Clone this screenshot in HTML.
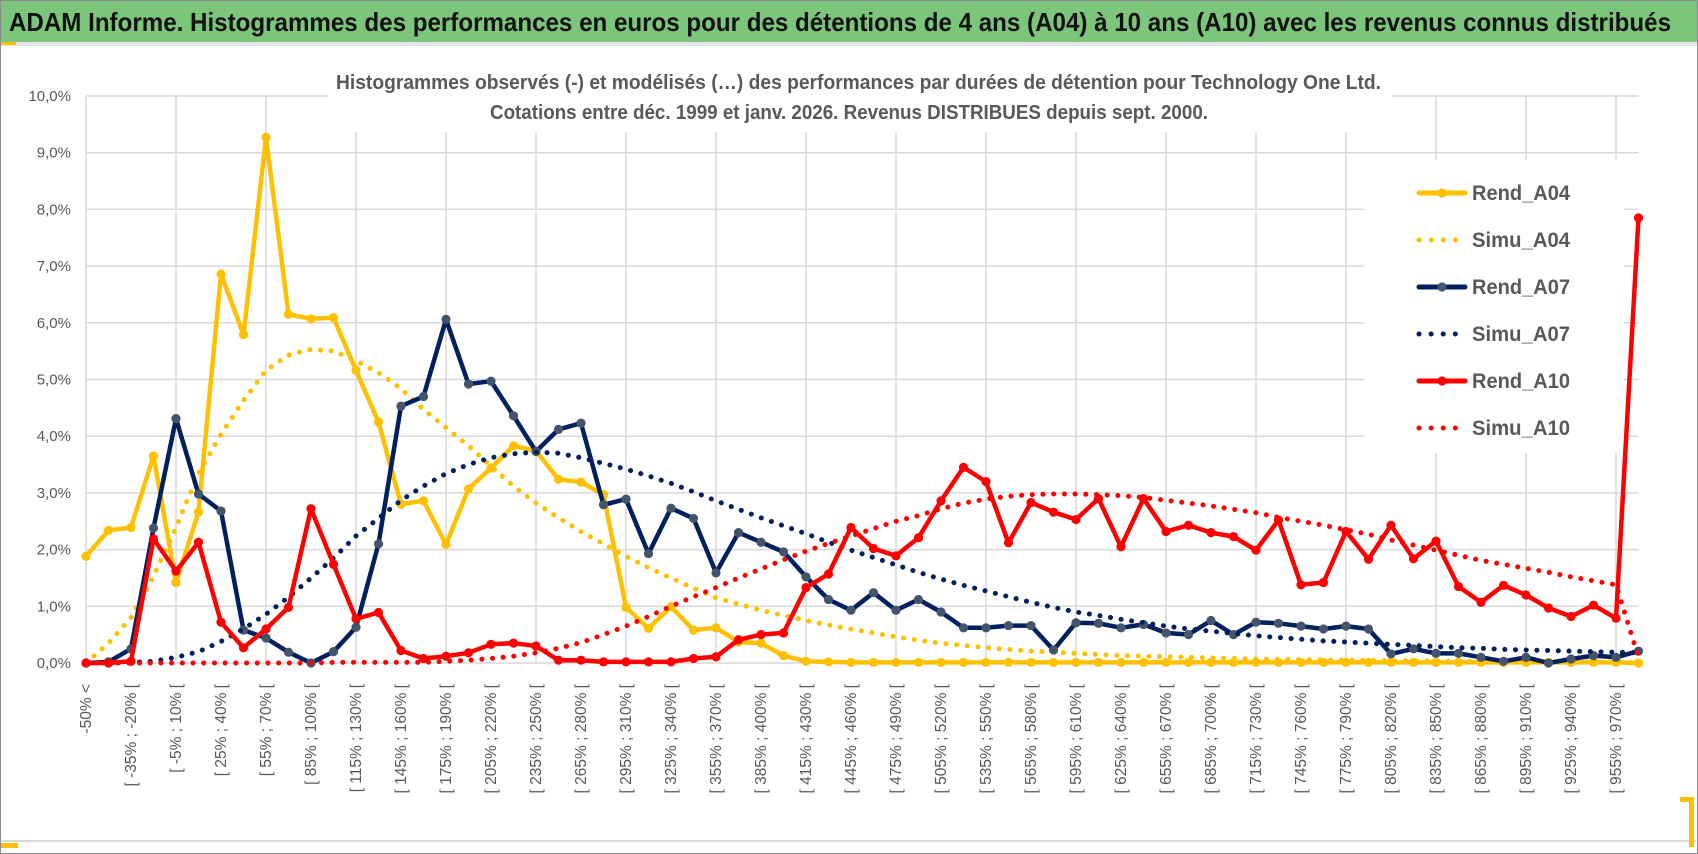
<!DOCTYPE html>
<html><head><meta charset="utf-8">
<style>
html,body{margin:0;padding:0;background:#fff;}
svg{display:block;font-family:"Liberation Sans",sans-serif;}
</style></head>
<body>
<svg id="chart" width="1698" height="854" viewBox="0 0 1698 854" xmlns="http://www.w3.org/2000/svg">
  <rect x="0.5" y="0.5" width="1697" height="853" fill="#fff" stroke="#8c8c8c"/>
  <rect x="1" y="1" width="1696" height="41" fill="#7cc67c"/>
  <rect x="1" y="42" width="1696" height="4" fill="#e4e4e4"/>
  <rect x="1" y="42" width="15" height="3" fill="#ffc000"/>
  <text x="9" y="31" font-size="26" font-weight="bold" fill="#111" textLength="1662" lengthAdjust="spacingAndGlyphs">ADAM Informe. Histogrammes des performances en euros pour des détentions de 4 ans (A04) à 10 ans (A10) avec les revenus connus distribués</text>
  <line x1="2" y1="841" x2="1696" y2="841" stroke="#d9d9d9" stroke-width="2"/>
  <rect x="1" y="843" width="17" height="5" fill="#ffc000"/>
  <rect x="1680" y="797" width="14" height="5" fill="#ffc000"/>
  <rect x="1689" y="797" width="5" height="50" fill="#ffc000"/>
  <g id="grid"></g>
  <g id="yaxis"></g>
  <g id="xaxis"></g>
  <rect x="328" y="50" width="1064" height="82" fill="#fff"/>
  <text x="336" y="89" font-size="20" font-weight="bold" fill="#595959" textLength="1045" lengthAdjust="spacingAndGlyphs">Histogrammes observés (-) et modélisés (…)  des performances par durées de détention pour Technology One Ltd.</text>
  <text x="490" y="119" font-size="20" font-weight="bold" fill="#595959" textLength="718" lengthAdjust="spacingAndGlyphs">Cotations entre déc. 1999 et janv. 2026.  Revenus DISTRIBUES depuis sept. 2000.</text>
  <rect x="1364" y="160" width="260" height="293" fill="#fff"/>
  <g id="series"></g>
  <g id="legend"></g>
</svg>
<script>
const rendA04 = [1.88,2.34,2.39,3.65,1.42,2.66,6.86,5.79,9.27,6.15,6.07,6.09,5.16,4.25,2.8,2.86,2.09,3.07,3.44,3.83,3.74,3.24,3.19,2.97,0.98,0.61,0.99,0.58,0.62,0.37,0.35,0.13,0.03,0.02,0.01,0.01,0.01,0.01,0.01,0.01,0.01,0.01,0.01,0.01,0.01,0.01,0.01,0.01,0.01,0.01,0.01,0.01,0.01,0.01,0.01,0.01,0.01,0.01,0.01,0.01,0.01,0.01,0.01,0.01,0.01,0.01,0.01,0.01,0.01,0.0];
const simuA04 = [0.0,0.35,0.8,1.53,2.39,3.35,4.03,4.63,5.16,5.43,5.53,5.5,5.33,5.12,4.84,4.47,4.15,3.83,3.47,3.12,2.82,2.56,2.32,2.1,1.88,1.68,1.5,1.32,1.15,1.04,0.93,0.84,0.75,0.67,0.6,0.53,0.46,0.4,0.35,0.31,0.27,0.24,0.21,0.19,0.17,0.15,0.13,0.12,0.11,0.1,0.09,0.08,0.07,0.065,0.06,0.055,0.05,0.045,0.04,0.038,0.035,0.032,0.03,0.028,0.026,0.024,0.022,0.02,0.018,0.0];
const rendA07 = [0,0.02,0.25,2.38,4.31,2.98,2.68,0.58,0.44,0.19,0.0,0.2,0.63,2.1,4.53,4.7,6.06,4.92,4.97,4.36,3.73,4.12,4.23,2.79,2.89,1.93,2.73,2.55,1.59,2.3,2.13,1.96,1.52,1.12,0.93,1.24,0.93,1.12,0.9,0.62,0.62,0.66,0.66,0.23,0.71,0.7,0.62,0.68,0.53,0.5,0.75,0.5,0.72,0.7,0.65,0.6,0.65,0.6,0.16,0.25,0.17,0.17,0.1,0.03,0.1,0.0,0.07,0.13,0.1,0.21];
const simuA07 = [0,0,0.01,0.03,0.1,0.2,0.38,0.6,0.86,1.16,1.5,1.85,2.24,2.55,2.87,3.12,3.34,3.5,3.62,3.69,3.72,3.7,3.62,3.52,3.42,3.3,3.17,3.02,2.86,2.71,2.56,2.42,2.28,2.13,1.99,1.86,1.73,1.6,1.48,1.37,1.27,1.17,1.07,0.98,0.9,0.84,0.77,0.71,0.65,0.6,0.56,0.52,0.48,0.45,0.42,0.39,0.37,0.35,0.33,0.31,0.29,0.27,0.26,0.24,0.23,0.22,0.21,0.2,0.19,0.18];
const rendA10 = [0,0,0.03,2.19,1.62,2.13,0.72,0.27,0.6,0.98,2.72,1.74,0.78,0.89,0.22,0.08,0.12,0.18,0.33,0.35,0.3,0.05,0.05,0.02,0.02,0.02,0.02,0.08,0.11,0.41,0.5,0.53,1.33,1.57,2.39,2.02,1.89,2.21,2.86,3.45,3.2,2.12,2.83,2.66,2.53,2.9,2.05,2.9,2.32,2.43,2.3,2.23,1.99,2.52,1.38,1.42,2.32,1.83,2.43,1.84,2.15,1.35,1.07,1.37,1.2,0.97,0.82,1.02,0.79,7.85];
const simuA10 = [0,0,0,0,0,0,0,0,0,0,0,0.01,0.01,0.01,0.01,0.01,0.03,0.05,0.08,0.12,0.18,0.26,0.36,0.5,0.65,0.82,1.0,1.17,1.33,1.5,1.66,1.82,1.97,2.11,2.24,2.37,2.5,2.6,2.72,2.82,2.89,2.94,2.97,2.98,2.98,2.97,2.95,2.92,2.87,2.82,2.77,2.71,2.65,2.57,2.5,2.43,2.35,2.27,2.17,2.08,1.99,1.9,1.81,1.74,1.67,1.6,1.52,1.45,1.38,0.1];
const yTicks = [0,1,2,3,4,5,6,7,8,9,10];
const yTickLabels = ["0,0%","1,0%","2,0%","3,0%","4,0%","5,0%","6,0%","7,0%","8,0%","9,0%","10,0%"];
const categories = ["-50% <"];
for (let k = 1; k < 69; k++) { const a = -50 + 15 * (k - 1); categories.push("[ " + a + "% ; " + (a + 15) + "% ["); }
categories.push("970% >");

const NS = "http://www.w3.org/2000/svg";
const X0 = 86, DX = 22.5, Y0 = 663, YPER = 56.7;
function xScale(i){ return X0 + i * DX; }
function yScale(v){ return Y0 - v * YPER; }
function mk(tag, attrs, parent){ const e = document.createElementNS(NS, tag); for (const k in attrs) e.setAttribute(k, attrs[k]); parent.appendChild(e); return e; }

const grid = document.getElementById('grid');
const lastX = xScale(categories.length - 1);
yTicks.forEach((t) => {
  const l = mk('line', {x1: X0, x2: lastX, y1: yScale(t), y2: yScale(t), stroke: '#d9d9d9', 'stroke-width': 1.5}, grid);
  
  
});
for (let i = 0; i < categories.length; i += 4) {
  const l = mk('line', {x1: xScale(i), x2: xScale(i), y1: yScale(10), y2: yScale(0), stroke: '#d9d9d9', 'stroke-width': 1.5}, grid);
  
  
}
const yaxis = document.getElementById('yaxis');
yTicks.forEach((t, i) => {
  const tx = mk('text', {x: 71, y: yScale(t) + 5, 'text-anchor': 'end', 'font-size': 15, fill: '#595959'}, yaxis);
  tx.textContent = yTickLabels[i];
  
  
});
const xaxis = document.getElementById('xaxis');
for (let i = 0; i < categories.length - 1; i += 2) {
  const x = xScale(i) + 5, y = 684;
  const tx = mk('text', {x: x, y: y, 'text-anchor': 'end', 'font-size': 15.5, fill: '#595959', transform: 'rotate(-90 ' + x + ' ' + y + ')'}, xaxis);
  tx.textContent = categories[i];
  
  
}

const seriesG = document.getElementById('series');
function pts(arr){ return arr.map((v, i) => xScale(i).toFixed(1) + ',' + yScale(v).toFixed(1)).join(' '); }
function solid(arr, color, markerFill, name){
  const g = mk('g', {}, seriesG);
  
  
  const pl = mk('polyline', {points: pts(arr), fill: 'none', stroke: color, 'stroke-width': 4.5, 'stroke-linejoin': 'round', 'stroke-linecap': 'round'}, g);
  
  
  arr.forEach((v, i) => {
    const c = mk('circle', {cx: xScale(i), cy: yScale(v), r: 4.6, fill: markerFill}, g);
    
    
  });
}
function dotted(arr, color, name){
  const pl = mk('polyline', {points: pts(arr), fill: 'none', stroke: color, 'stroke-width': 5, 'stroke-linecap': 'round', 'stroke-dasharray': '0.1 10.6'}, seriesG);
  
  
}
solid(rendA04, '#ffc000', '#ffc000', 'rend-a04');
dotted(simuA04, '#ffc000', 'simu-a04');
solid(rendA07, '#002060', '#44546a', 'rend-a07');
dotted(simuA07, '#002060', 'simu-a07');
solid(rendA10, '#ff0000', '#ff0000', 'rend-a10');
dotted(simuA10, '#ff0000', 'simu-a10');

const legendItems = [
  ['Rend_A04', '#ffc000', '#ffc000', false],
  ['Simu_A04', '#ffc000', null, true],
  ['Rend_A07', '#002060', '#44546a', false],
  ['Simu_A07', '#002060', null, true],
  ['Rend_A10', '#ff0000', '#ff0000', false],
  ['Simu_A10', '#ff0000', null, true]
];
const legendY = [193, 240, 287, 334, 381, 428];
const legend = document.getElementById('legend');
legendItems.forEach((it, i) => {
  const g = mk('g', {}, legend);
  
  
  const y = legendY[i];
  if (it[3]) {
    mk('line', {x1: 1419, x2: 1465, y1: y, y2: y, stroke: it[1], 'stroke-width': 5, 'stroke-linecap': 'round', 'stroke-dasharray': '0.1 12'}, g);
  } else {
    mk('line', {x1: 1419, x2: 1465, y1: y, y2: y, stroke: it[1], 'stroke-width': 5, 'stroke-linecap': 'round'}, g);
    mk('circle', {cx: 1442, cy: y, r: 4.6, fill: it[2]}, g);
  }
  const t = mk('text', {x: 1472, y: y + 7, 'font-size': 21, 'font-weight': 'bold', fill: '#595959', textLength: 98, lengthAdjust: 'spacingAndGlyphs'}, g);
  t.textContent = it[0];
});
</script>
</body></html>
